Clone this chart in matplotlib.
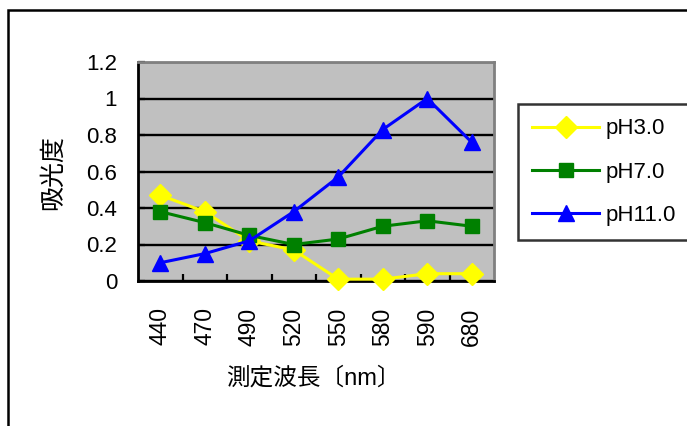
import matplotlib
matplotlib.use("Agg")
import matplotlib.pyplot as plt
from matplotlib.patches import Rectangle

plt.rcParams['font.family'] = ['Liberation Sans', 'Noto Sans CJK JP']

wavelengths = ["440", "470", "490", "520", "550", "580", "590", "680"]
ph3 = [0.47, 0.38, 0.22, 0.17, 0.01, 0.01, 0.04, 0.04]
ph7 = [0.38, 0.32, 0.25, 0.20, 0.23, 0.30, 0.33, 0.30]
ph11 = [0.10, 0.15, 0.22, 0.38, 0.57, 0.83, 1.00, 0.76]
series_names = ["pH3.0", "pH7.0", "pH11.0"]
yticks = [0, 0.2, 0.4, 0.6, 0.8, 1.0, 1.2]
ytick_labels = ["0", "0.2", "0.4", "0.6", "0.8", "1", "1.2"]

W, H = 687, 426
fig = plt.figure(figsize=(W / 100, H / 100), dpi=100)

# outer chart frame
fig.patches.append(Rectangle((8 / W, -0.05), 1.0, 1 - 10 / H + 0.05,
                             transform=fig.transFigure, fill=False,
                             edgecolor='black', linewidth=1.8, zorder=0))

left, right, top, bottom = 138, 494, 62, 281
ax = fig.add_axes([left / W, 1 - bottom / H, (right - left) / W, (bottom - top) / H])
ax.set_facecolor('#C0C0C0')

x = list(range(len(wavelengths)))
styles = [
    (ph3, '#FFFF00', 'D', 11.5),
    (ph7, '#008000', 's', 10),
    (ph11, '#0000FF', '^', 12),
]
handles = []
for (vals, color, marker, ms), name in zip(styles, series_names):
    h, = ax.plot(x, vals, color=color, marker=marker, markersize=ms,
                 linewidth=2.2, markeredgecolor=color, label=name,
                 clip_on=False, zorder=3)
    handles.append(h)

ax.set_xlim(-0.5, len(wavelengths) - 0.5)
ax.set_ylim(0, 1.2)
ax.set_yticks(yticks)
ax.set_yticklabels(ytick_labels)
ax.yaxis.grid(True, color='black', linewidth=1.7)
ax.set_axisbelow(True)

# category ticks sit between categories
ax.set_xticks([i + 0.5 for i in range(len(wavelengths) - 1)], minor=False)
ax.set_xticklabels([])
ax.set_xticks(x, minor=True)
ax.set_xticklabels(wavelengths, minor=True, rotation=90, fontsize=16.5)
ax.tick_params(axis='x', which='major', direction='in', length=5, width=1.6, color='black')
ax.tick_params(axis='x', which='minor', length=0, pad=19)
ax.tick_params(axis='y', direction='in', length=5, width=1.6, labelsize=16, pad=15)

for s in ['left', 'bottom']:
    ax.spines[s].set_color('black')
    ax.spines[s].set_linewidth(2.0)
for s in ['top', 'right']:
    ax.spines[s].set_color('#808080')
    ax.spines[s].set_linewidth(2.0)

fig.text(53 / W, 1 - 172 / H, "吸光度", rotation=90, fontsize=18,
         ha='center', va='center')
fig.text(313 / W, 1 - 378 / H, "測定波長〔nm〕", fontsize=17,
         ha='center', va='center')

leg = fig.legend(handles=handles, loc='upper left',
                 bbox_to_anchor=(518 / W, 1 - 104 / H), fontsize=16,
                 frameon=True, fancybox=False, edgecolor='black',
                 handlelength=3.0, handletextpad=0.3, labelspacing=1.0,
                 borderpad=0.65, borderaxespad=0)
leg.get_frame().set_linewidth(1.8)

fig.savefig("out.png", dpi=100)
